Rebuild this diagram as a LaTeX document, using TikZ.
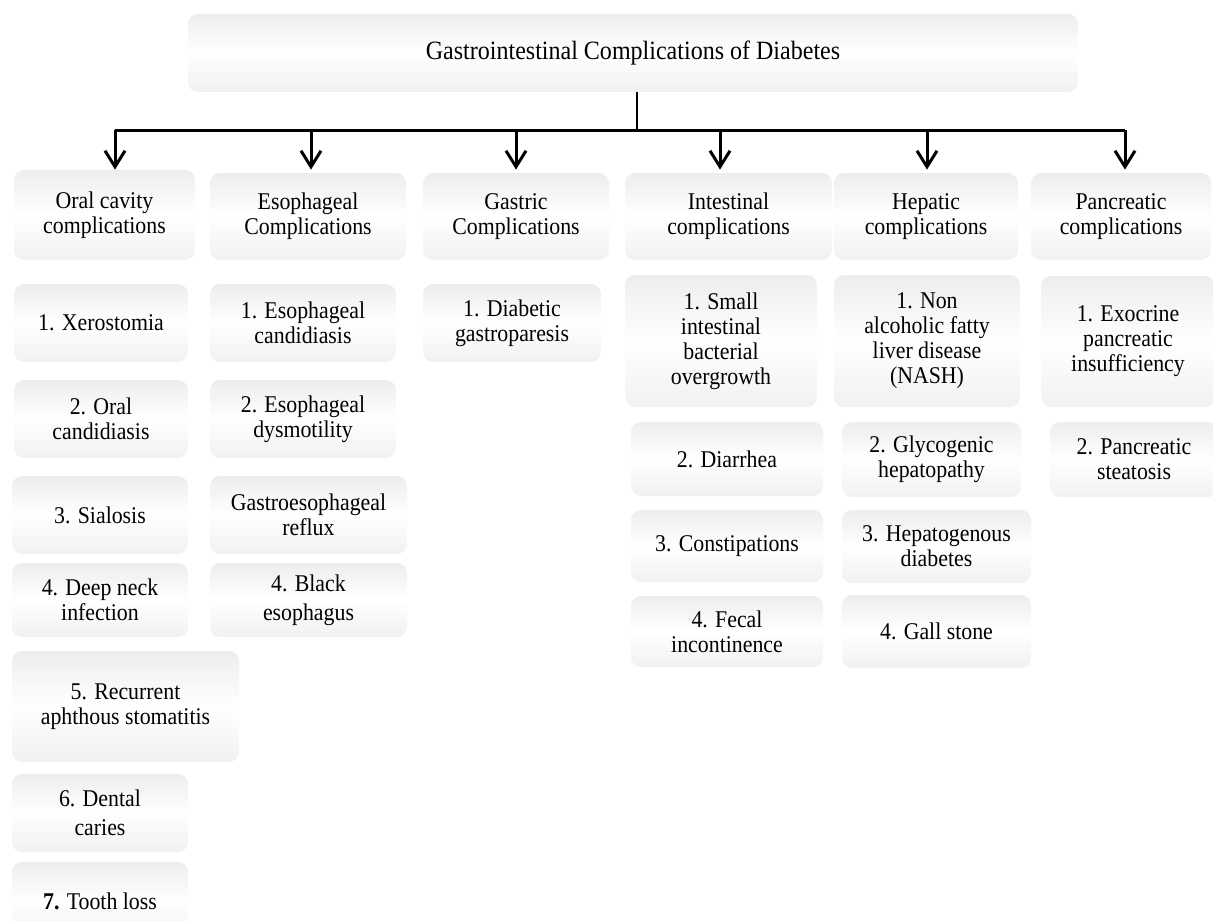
\documentclass[tikz,border=0pt]{standalone}
\usepackage{fontspec}
\setmainfont{Liberation Serif}[FakeStretch=0.91]
\usetikzlibrary{arrows.meta}

\tikzset{
	box/.style={rectangle, rounded corners=5pt, align=center, inner sep=2pt,
		top color=gray!14, bottom color=gray!11, middle color=white},
	boxsize/.style 2 args={minimum width=#1*0.5pt, minimum height=#2*0.5pt},
	arr/.style={-{Straight Barb[length=8pt,width=10pt]}, line width=1.5pt, shorten >=1.5pt}
}

\begin{document}
\begin{tikzpicture}[x=0.5pt, y=-0.5pt, font=\fontsize{12}{12.5}\selectfont]
			\useasboundingbox (0,0) rectangle (1213,920);
			
			% Title
			\node[box, boxsize={890}{78}, font=\fontsize{13.2}{14}\selectfont] (Title) at (633,53) {Gastrointestinal Complications of Diabetes};
			
			% Define categories
			\node[box, boxsize={181}{90}] (Oral) at (104.5,215) {Oral cavity\\complications};
			\node[box, boxsize={196}{87}] (Esoph) at (308,216.5) {Esophageal\\Complications};
			\node[box, boxsize={186}{87}] (Gastric) at (516,216.5) {Gastric\\Complications};
			\node[box, boxsize={207}{87}] (Intest) at (728.5,216.5) {Intestinal\\complications};
			\node[box, boxsize={184}{87}] (Hepatic) at (926,216.5) {Hepatic\\complications};
			\node[box, boxsize={180}{87}] (Panc) at (1121,216.5) {Pancreatic\\complications};
			
			% Oral cavity items
			\node[box, boxsize={174}{78}] (O1) at (101,323) {1. Xerostomia};
			\node[box, boxsize={174}{78}] (O2) at (101,419) {2. Oral\\candidiasis};
			\node[box, boxsize={176}{78}] (O3) at (100,515) {3. Sialosis};
			\node[box, boxsize={176}{74}] (O4) at (100,600) {4. Deep neck\\infection};
			\node[box, boxsize={227}{111}] (O5) at (125.5,706.5) {5. Recurrent\\aphthous stomatitis};
			\node[box, boxsize={176}{78}] (O6) at (100,813) {6. Dental\\[2pt]caries};
			\node[box, boxsize={176}{78}] (O7) at (100,901) {\textbf{7.} Tooth loss};
			
			% Esophageal items
			\node[box, boxsize={186}{78}] (E1) at (303,323) {1. Esophageal\\candidiasis};
			\node[box, boxsize={186}{78}] (E2) at (303,419) {2. Esophageal\\dysmotility};
			\node[box, boxsize={197}{78}] (E3) at (308.5,515) {Gastroesophageal\\reflux};
			\node[box, boxsize={197}{74}] (E4) at (308.5,600) {4. Black\\[2pt]esophagus};
			
			% Gastric items
			\node[box, boxsize={178}{78}] (G1) at (512,323) {1. Diabetic\\gastroparesis};
			
			% Intestinal items
			\node[box, boxsize={192}{132}] (I1) at (721,341) {1. Small\\intestinal\\bacterial\\overgrowth};
			\node[box, boxsize={192}{74}] (I2) at (727,459) {2. Diarrhea};
			\node[box, boxsize={192}{72}] (I3) at (727,546) {3. Constipations};
			\node[box, boxsize={192}{71}] (I4) at (727,631.5) {4. Fecal\\incontinence};
			
			% Hepatic items
			\node[box, boxsize={186}{132}] (H1) at (927,341) {1. Non\\alcoholic fatty\\liver disease\\(NASH)};
			\node[box, boxsize={179}{75}] (H2) at (931.5,459.5) {2. Glycogenic\\hepatopathy};
			\node[box, boxsize={189}{73}] (H3) at (936.5,546.5) {3. Hepatogenous\\diabetes};
			\node[box, boxsize={189}{73}] (H4) at (936.5,631.5) {4. Gall stone};
			
			% Pancreatic items
			\node[box, boxsize={174}{131}] (P1) at (1128,341.5) {1. Exocrine\\pancreatic\\insufficiency};
			\node[box, boxsize={168}{75}] (P2) at (1134,459.5) {2. Pancreatic\\steatosis};
			
			% Connectors
			\coordinate (bar) at (637,130);
			\foreach \c/\x in {Oral/115,Esoph/311,Gastric/516,Intest/720,Hepatic/927,Panc/1125}
				\coordinate (a\c) at (\x,130);
			\draw[line width=1pt] (bar |- Title.south) -- (bar);
			\draw[line width=1.5pt] (aOral) -- (aPanc);
			\foreach \c in {Oral,Esoph,Gastric,Intest,Hepatic,Panc}
				\draw[arr] (a\c) -- (a\c |- Panc.north);
		\end{tikzpicture}
\end{document}
